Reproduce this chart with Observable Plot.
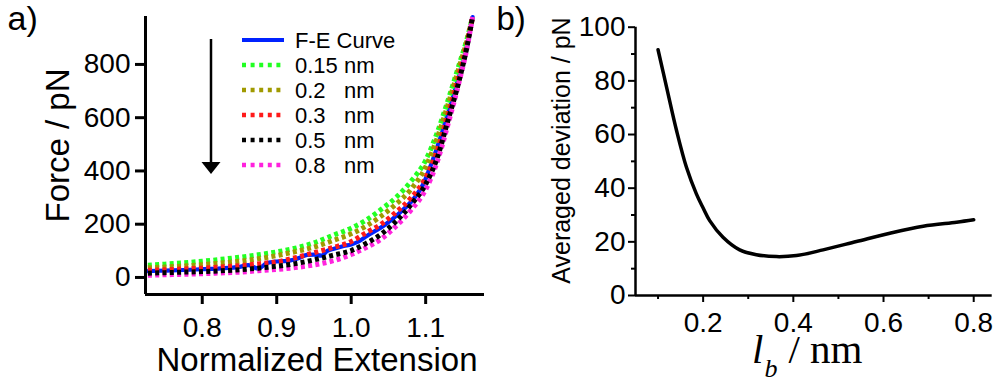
<!DOCTYPE html>
<html><head><meta charset="utf-8">
<script src="https://cdn.jsdelivr.net/npm/d3@7"></script>
<script src="https://cdn.jsdelivr.net/npm/@observablehq/plot@0.6"></script>
<style>
body{margin:0;background:#fff;}
#wrap{display:flex;width:1000px;height:383px;overflow:hidden;}
#wrap svg{overflow:visible;display:block}
</style></head><body><div id="wrap"></div>
<script>
// ---------- Panel a) data ----------
const extension = [0.727, 0.75, 0.775, 0.8, 0.825, 0.85, 0.875, 0.9, 0.925, 0.95, 0.975, 1.0, 1.02, 1.04, 1.06, 1.08, 1.1, 1.115, 1.13, 1.145, 1.155, 1.163];
const fit015 = [46, 50, 55, 61, 68, 76, 85, 96, 110, 130, 158, 185, 215, 255, 300, 360, 440, 540, 665, 800, 890, 978];
const fit02  = [36, 39, 43, 48, 54, 61, 70, 82, 97, 114, 138, 164, 193, 230, 275, 330, 415, 520, 650, 790, 885, 978];
const fit03  = [27, 29, 32, 35, 39, 44, 51, 59, 74, 93, 112, 135, 168, 200, 245, 298, 375, 470, 610, 760, 870, 978];
const fit05  = [16, 18, 20, 22, 25, 29, 35, 42, 52, 66, 83, 101, 128, 162, 210, 272, 350, 445, 590, 740, 860, 978];
const fit08  = [8, 10, 12, 14, 17, 20, 25, 30, 37, 47, 62, 86, 112, 144, 192, 252, 330, 430, 575, 735, 855, 978];
const feExtension = [0.727, 0.75, 0.775, 0.8, 0.825, 0.85, 0.862, 0.875, 0.887, 0.9, 0.914, 0.93, 0.941, 0.95, 0.96, 0.968, 0.977, 0.99, 1.0, 1.01, 1.021, 1.044, 1.066, 1.084, 1.097, 1.11, 1.125, 1.14, 1.155, 1.163];
const feForce = [24, 26, 28, 31, 34, 40, 46, 33, 54, 60, 62, 73, 85, 86, 82, 100, 108, 118, 124, 135, 156, 195, 245, 296, 352, 445, 570, 710, 860, 978];
const seriesNames = ["0.15", "0.2", "0.3", "0.5", "0.8"];
const seriesColors = ["#22ff22", "#a09a00", "#ff1a1a", "#000000", "#ff22dd"];
const legendFirst = "F-E Curve";
const legendUnit = "nm";
const xTicksA = [0.8, 0.9, 1.0, 1.1];
const yTicksA = [0, 200, 400, 600, 800];

// ---------- Panel b) data ----------
const lb = [0.1, 0.119, 0.141, 0.163, 0.185, 0.2, 0.2145, 0.244, 0.281, 0.318, 0.3625, 0.407, 0.466, 0.54, 0.614, 0.688, 0.762, 0.8];
const deviation = [91.6, 77.6, 61.5, 47.8, 37.9, 32.6, 27.9, 21.7, 17.0, 15.2, 14.5, 14.9, 17.0, 20.1, 23.2, 25.8, 27.3, 28.2];
const xTicksB = [0.2, 0.4, 0.6, 0.8];
const xMinorB = [0.1, 0.3, 0.5, 0.7];
const yTicksB = [0, 20, 40, 60, 80, 100];
const yMinorB = [10, 30, 50, 70, 90];

const FONT = '"Liberation Sans", Arial, Helvetica, sans-serif';
const SERIF = '"Liberation Serif", "Times New Roman", serif';
const fmt1 = d3.format(".1f");
const noLabel = () => "";

const fitSeries = [fit015, fit02, fit03, fit05, fit08];
const feData = feExtension.map((x, i) => ({x, y: feForce[i]}));
const fitData = fitSeries.map(vals => extension.map((x, i) => ({x, y: vals[i]})));
const drawOrder = [0, 1, 2, 4, 3];

const xDomA = [0.7238, 1.179], yDomA = [-64, 980];
const left = Plot.plot({
  width: 495, height: 383,
  marginLeft: 145, marginRight: 11, marginTop: 16, marginBottom: 89,
  x: {domain: xDomA}, y: {domain: yDomA},
  style: {fontFamily: FONT, background: "white", color: "black", overflow: "visible"},
  marks: [
    Plot.line(feData, {x: "x", y: "y", stroke: "#0022ff", strokeWidth: 4.2, curve: "monotone-x"}),
    ...drawOrder.map(k => Plot.line(fitData[k], {x: "x", y: "y", stroke: seriesColors[k], strokeWidth: 5, strokeDasharray: "4,3.3", strokeLinecap: "butt", curve: "monotone-x"})),
    Plot.ruleX([xDomA[0]], {strokeWidth: 3}),
    Plot.ruleY([yDomA[0]], {strokeWidth: 3}),
    Plot.axisY({ticks: yTicksA, tickSize: 10, tickPadding: 5, fontSize: 28, strokeWidth: 3, label: null}),
    Plot.axisX({ticks: xTicksA, tickSize: 10, tickPadding: 13, fontSize: 28, strokeWidth: 3, label: null, tickFormat: fmt1}),
    Plot.text(["Force / pN"], {frameAnchor: "left", textAnchor: "middle", lineAnchor: "middle", rotate: -90, dx: -87, dy: -10, fontSize: 33}),
    Plot.text(["Normalized Extension"], {frameAnchor: "bottom", textAnchor: "middle", lineAnchor: "middle", dx: 2, dy: 66, fontSize: 33}),
    Plot.text(["a)"], {frameAnchor: "top-left", textAnchor: "start", lineAnchor: "middle", dx: -138, dy: 3, fontSize: 34})
  ]
});

// legend + arrow (layout in pixels)
{
  const svg = d3.select(left);
  const g = svg.append("g").attr("font-family", FONT).attr("font-size", 22).attr("text-anchor", "start");
  const rowY = i => 40 + 25 * i;
  g.append("line").attr("x1", 242).attr("x2", 284).attr("y1", rowY(0)).attr("y2", rowY(0))
    .attr("stroke", "#0022ff").attr("stroke-width", 4.2);
  g.append("text").attr("x", 295).attr("y", rowY(0)).attr("dy", "0.35em").text(legendFirst);
  seriesNames.forEach((name, k) => {
    const y = rowY(k + 1);
    g.append("line").attr("x1", 242).attr("x2", 282).attr("y1", y).attr("y2", y)
      .attr("stroke", seriesColors[k]).attr("stroke-width", 4.5).attr("stroke-dasharray", "4,4.6");
    g.append("text").attr("x", 295).attr("y", y).attr("dy", "0.35em").text(name);
    g.append("text").attr("x", 344).attr("y", y).attr("dy", "0.35em").text(legendUnit);
  });
  // arrow
  g.append("line").attr("x1", 211).attr("x2", 211).attr("y1", 39).attr("y2", 164)
    .attr("stroke", "black").attr("stroke-width", 2.5);
  g.append("path").attr("d", "M201.5,162 L220.5,162 L211,174 Z").attr("fill", "black");
}

const xDomB = [0.05, 0.841], yDomB = [0, 100];
const right = Plot.plot({
  width: 505, height: 383,
  marginLeft: 140, marginRight: 8.3, marginTop: 26.7, marginBottom: 88,
  x: {domain: xDomB}, y: {domain: yDomB},
  style: {fontFamily: FONT, background: "white", color: "black", overflow: "visible"},
  marks: [
    Plot.line(lb.map((x, i) => ({x, y: deviation[i]})), {x: "x", y: "y", stroke: "black", strokeWidth: 3.5, curve: "catmull-rom"}),
    Plot.ruleX([xDomB[0]], {strokeWidth: 2.5}),
    Plot.ruleY([yDomB[0]], {strokeWidth: 2.5}),
    Plot.axisY({ticks: yTicksB, tickSize: 7, tickPadding: 3, fontSize: 28, strokeWidth: 2, label: null}),
    Plot.axisY({ticks: yMinorB, tickSize: 4, tickFormat: noLabel, strokeWidth: 2, label: null}),
    Plot.axisX({ticks: xTicksB, tickSize: 7, tickPadding: 10, fontSize: 28, strokeWidth: 2, label: null, tickFormat: fmt1}),
    Plot.axisX({ticks: xMinorB, tickSize: 4, tickFormat: noLabel, strokeWidth: 2, label: null}),
    Plot.text(["Averaged deviation / pN"], {frameAnchor: "left", textAnchor: "middle", lineAnchor: "middle", rotate: -90, dx: -73.3, dy: -10.8, fontSize: 25}),
    Plot.text(["b)"], {frameAnchor: "top-left", textAnchor: "start", lineAnchor: "middle", dx: -139, dy: -7.7, fontSize: 33})
  ]
});

// x-axis title of panel b: l_b / nm as one text element with tspans
{
  const t = d3.select(right).append("text")
    .attr("font-family", SERIF).attr("font-size", 41).attr("text-anchor", "start")
    .attr("x", 257).attr("y", 363);
  t.append("tspan").attr("font-style", "italic").text("l");
  t.append("tspan").attr("font-style", "italic").attr("font-size", 26).attr("dx", 1).attr("dy", 14).text("b");
  t.append("tspan").attr("dx", 11).attr("dy", -14).text("/ nm");
}

const wrap = document.getElementById("wrap");
wrap.appendChild(left);
wrap.appendChild(right);
</script>
</body></html>
